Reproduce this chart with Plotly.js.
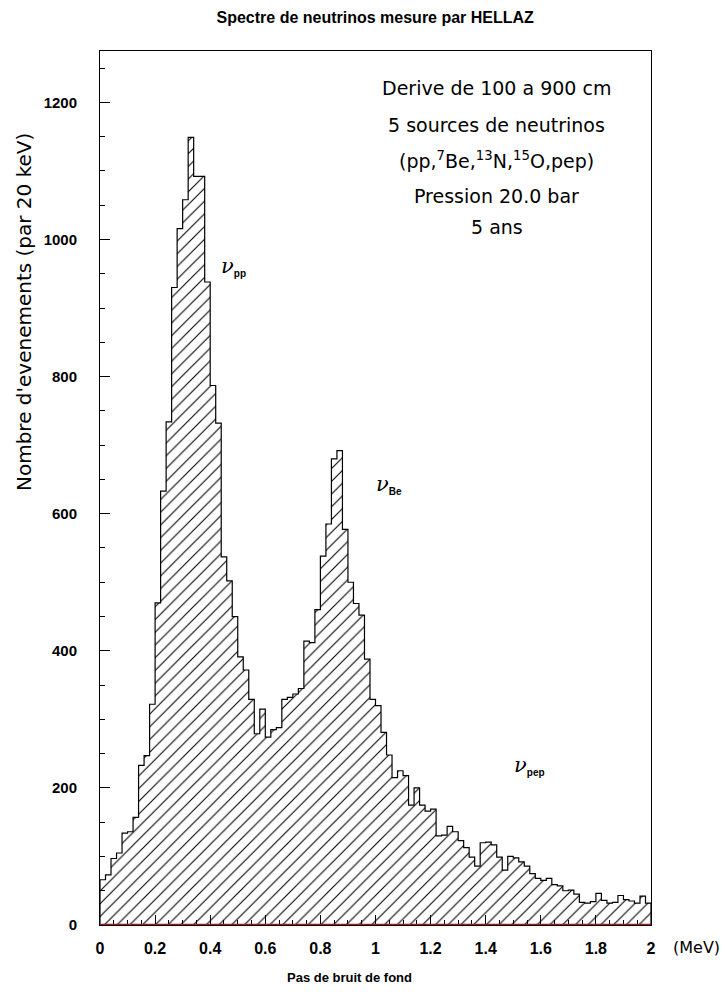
<!DOCTYPE html>
<html>
<head>
<meta charset="utf-8">
<script src="https://cdn.plot.ly/plotly-3.0.1.min.js"></script>
<style>html,body{margin:0;padding:0;background:#fff;}#chart{width:725px;height:992px;}</style>
</head>
<body>
<div id="chart"></div>
<script>
// Histogram: 100 bins of 0.02 MeV from 0 to 2 MeV (events per 20 keV)
const binWidth = 0.02;
const counts = [
  66, 73, 97, 105, 134, 136, 157, 233, 247, 322,
  470, 633, 734, 930, 1016, 1058, 1149, 1092, 1092, 938,
  787, 732, 537, 502, 450, 391, 372, 329, 279, 315,
  274, 285, 288, 329, 332, 337, 345, 414, 412, 460,
  538, 585, 680, 692, 577, 500, 469, 452, 388, 329,
  320, 281, 248, 215, 225, 218, 175, 200, 175, 166,
  169, 130, 131, 144, 136, 123, 113, 99, 86, 120,
  121, 117, 99, 80, 100, 98, 92, 86, 75, 68,
  65, 68, 59, 57, 50, 51, 45, 33, 32, 34,
  46, 36, 32, 33, 43, 37, 35, 32, 42, 32
];
const xTickVals = [0, 0.2, 0.4, 0.6, 0.8, 1, 1.2, 1.4, 1.6, 1.8, 2];
const xTickText = ["0", "0.2", "0.4", "0.6", "0.8", "1", "1.2", "1.4", "1.6", "1.8", "2"];
const yTickVals = [0, 200, 400, 600, 800, 1000, 1200];
const yTickText = ["0", "200", "400", "600", "800", "1000", "1200"];
const infoLines = [
  "Derive de 100 a 900 cm",
  "5 sources de neutrinos",
  "(pp,<sup>7</sup>Be,<sup>13</sup>N,<sup>15</sup>O,pep)",
  "Pression 20.0 bar",
  "5 ans"
];
const nuLabels = ["pp", "Be", "pep"];

const leftEdges = counts.map((_, i) => i * binWidth);

// step outline
const sx = [0], sy = [0];
counts.forEach((c, i) => { sx.push(leftEdges[i]); sy.push(c); });
sx.push(counts.length * binWidth); sy.push(counts[counts.length - 1]);
sx.push(counts.length * binWidth); sy.push(0);

const bars = {
  type: 'bar',
  x: leftEdges,
  y: counts,
  width: binWidth,
  offset: 0,
  marker: {
    color: '#ffffff',
    line: {width: 0},
    pattern: {shape: '/', fgcolor: '#000000', bgcolor: '#ffffff', size: 9, solidity: 0.12}
  },
  hoverinfo: 'skip',
  showlegend: false
};
const outline = {
  type: 'scatter',
  mode: 'lines',
  x: sx,
  y: sy,
  line: {shape: 'hv', color: '#000000', width: 1.2},
  hoverinfo: 'skip',
  showlegend: false
};

const textFont = {family: 'DejaVu Sans', size: 19, color: '#000'};
const infoY = [1221, 1167, 1116, 1063, 1018];
const annotations = infoLines.map((t, i) => ({
  xref: 'x', yref: 'y', x: 1.44, y: infoY[i], text: t, showarrow: false,
  font: textFont, xanchor: 'center', yanchor: 'middle'
}));
const nuPos = [[0.485, 960], [1.048, 642], [1.56, 233]];
nuLabels.forEach((lab, i) => {
  annotations.push({
    xref: 'x', yref: 'y', x: nuPos[i][0], y: nuPos[i][1], showarrow: false,
    text: '<i>ν</i><sub><span style="font-size:10px;font-weight:bold;font-family:Liberation Sans">' + lab + '</span></sub>',
    font: {family: 'DejaVu Serif', size: 21, color: '#000'}
  });
});
annotations.push(
  {xref: 'paper', yref: 'paper', x: 0.453, y: -0.0595, showarrow: false,
   text: 'Pas de bruit de fond', font: {family: 'Liberation Sans', size: 13, weight: 'bold', color: '#000'},
   xanchor: 'center', yanchor: 'middle'},
  {xref: 'paper', yref: 'paper', x: -0.1367, y: 0.701, showarrow: false, textangle: -90,
   text: "Nombre d'evenements (par 20 keV)", font: {family: 'DejaVu Sans', size: 20, color: '#000'},
   xanchor: 'center', yanchor: 'middle'},
  {xref: 'paper', yref: 'paper', x: 1.083, y: -0.0257, showarrow: false,
   text: '(MeV)', font: {family: 'DejaVu Sans', size: 16, color: '#000'},
   xanchor: 'center', yanchor: 'middle'}
);

const layout = {
  width: 725, height: 992,
  margin: {l: 100, r: 74, t: 51, b: 67, pad: 0},
  paper_bgcolor: '#ffffff', plot_bgcolor: '#ffffff',
  bargap: 0,
  title: {text: 'Spectre de neutrinos mesure par HELLAZ',
          font: {family: 'Liberation Sans', size: 16, weight: 'bold', color: '#000'},
          x: 0.5175, xanchor: 'center', y: 0.982, yanchor: 'middle'},
  xaxis: {
    range: [0, 2], showgrid: false, zeroline: false,
    showline: true, linecolor: '#000', linewidth: 1, mirror: true,
    ticks: 'inside', ticklen: 10, tickcolor: '#000', tickwidth: 1,
    tickvals: xTickVals, ticktext: xTickText, ticklabelstandoff: 9,
    tickfont: {family: 'Liberation Sans', size: 16, weight: 'bold', color: '#000'},
    minor: {dtick: 0.05, tick0: 0, ticks: 'inside', ticklen: 5, tickcolor: '#000', showgrid: false}
  },
  yaxis: {
    range: [0, 1275], showgrid: false, zeroline: false,
    showline: true, linecolor: '#000', linewidth: 1, mirror: true,
    ticks: 'inside', ticklen: 10, tickcolor: '#000', tickwidth: 1,
    tickvals: yTickVals, ticktext: yTickText, ticklabelstandoff: 19,
    tickfont: {family: 'Liberation Sans', size: 15, weight: 'bold', color: '#000'},
    minor: {dtick: 50, tick0: 0, ticks: 'inside', ticklen: 5, tickcolor: '#000', showgrid: false}
  },
  shapes: [{type: 'line', xref: 'paper', yref: 'y', x0: 0, x1: 1, y0: 0, y1: 0,
            line: {color: '#a01818', width: 2.5}, layer: 'above'}],
  annotations: annotations
};

Plotly.newPlot('chart', [bars, outline], layout, {displayModeBar: false, staticPlot: true});
</script>
</body>
</html>
